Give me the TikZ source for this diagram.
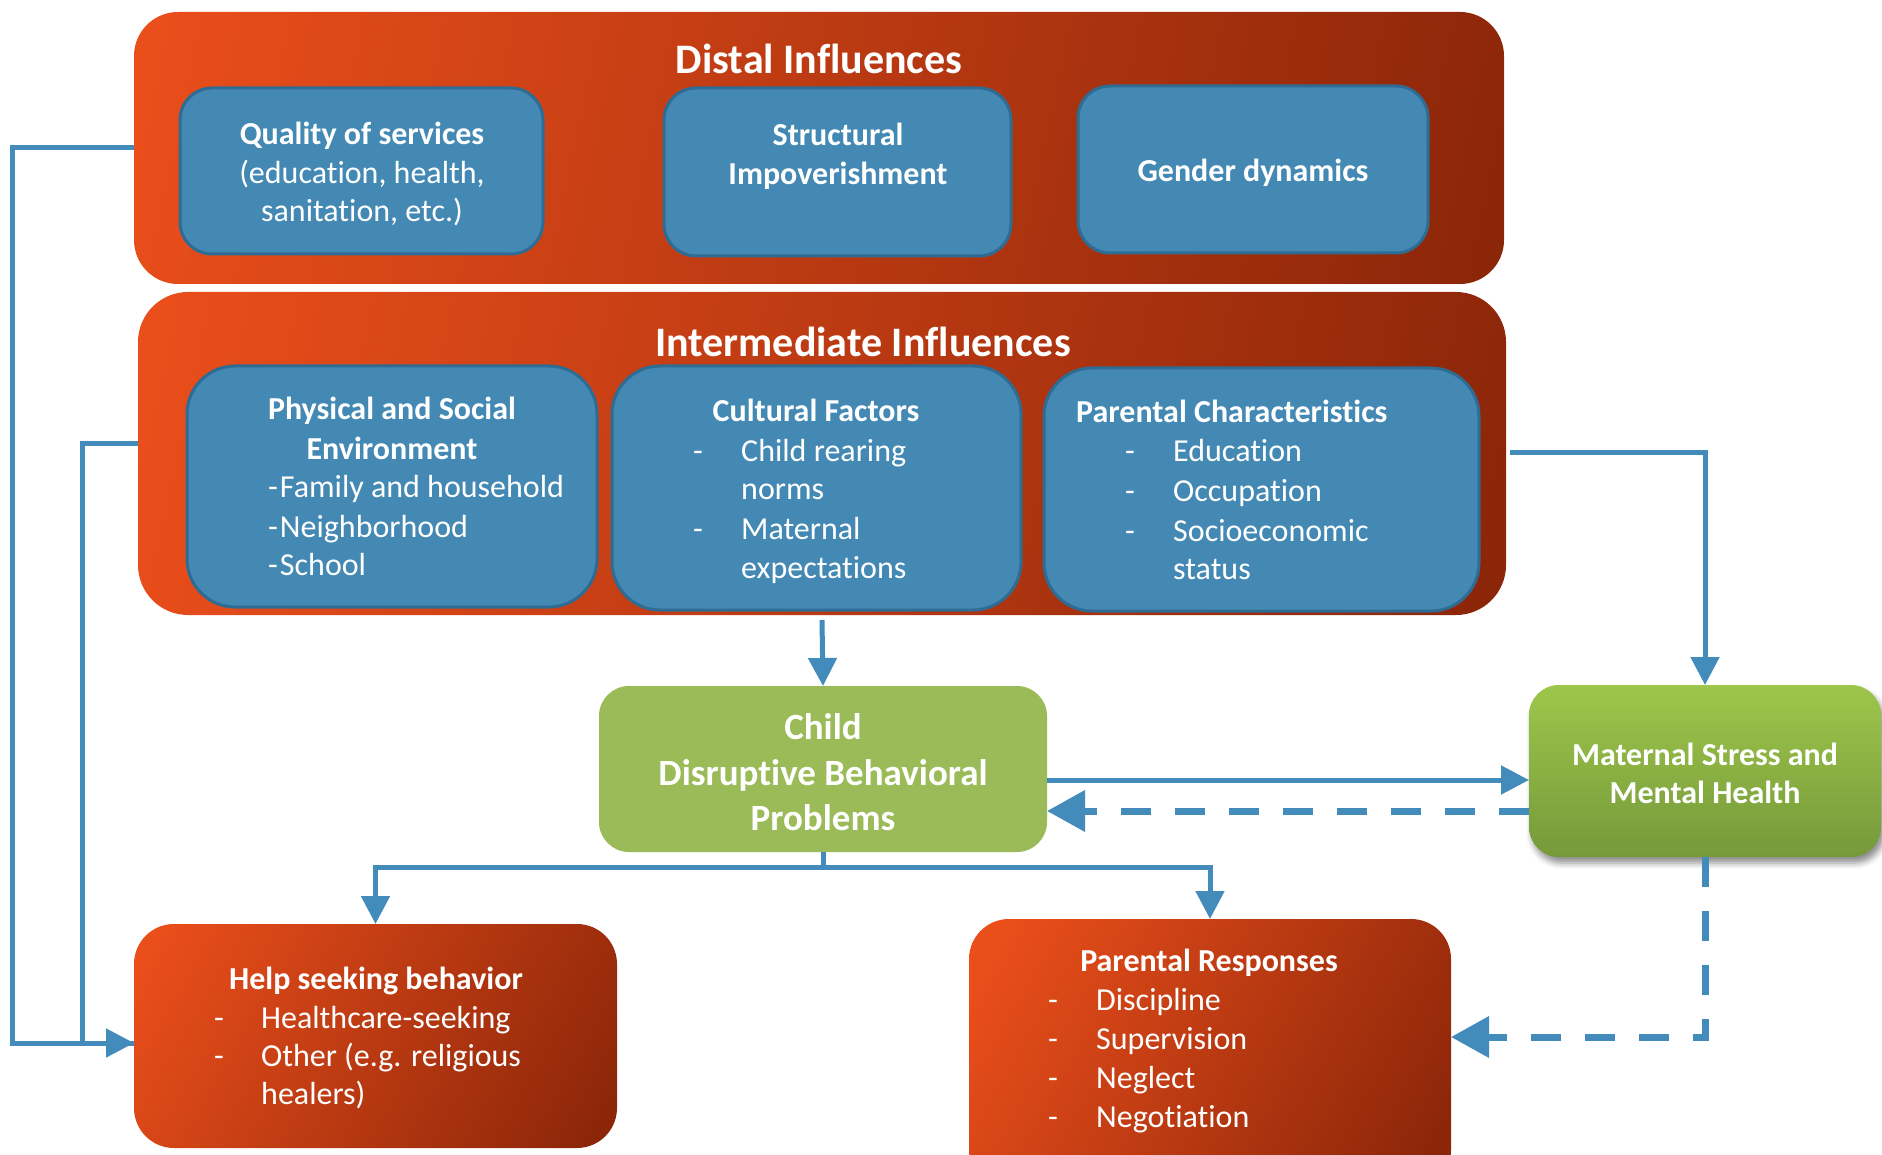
\documentclass[tikz,border=0pt]{standalone}
\usepackage{fontspec}
\setmainfont{Carlito}[Ligatures=NoCommon]
\usetikzlibrary{arrows.meta,calc,shadows.blur}

\definecolor{boxblue}{HTML}{4389B4}
\definecolor{boxedge}{HTML}{2F6C94}
\definecolor{linkblue}{HTML}{428BBA}
\definecolor{redL}{HTML}{EA4E1B}
\definecolor{redR}{HTML}{8C2609}
\definecolor{childgreen}{HTML}{9BBB59}
\definecolor{momtop}{HTML}{9EC64B}
\definecolor{mombot}{HTML}{76993A}

\tikzset{
  % diagonal orange-to-brown fill, clipped to the node outline
  redgrad/.style 2 args={path picture={
    \shade[left color=redL, right color=redR, shading angle=#2]
      ($(path picture bounding box.center)+(-#1,-#1)$) rectangle
      ($(path picture bounding box.center)+(#1,#1)$);}},
  panel/.style={rectangle, inner sep=0pt, outer sep=0pt},
  bluebox/.style={panel, fill=boxblue, draw=boxedge, line width=3pt},
  ttl/.style={font=\fontsize{42}{50}\selectfont\bfseries, text=white, anchor=base, inner sep=0pt},
  hd/.style={font=\fontsize{32}{39}\selectfont\bfseries, text=white, anchor=base, inner sep=0pt},
  bighd/.style={font=\fontsize{37}{45}\selectfont\bfseries, text=white, anchor=base, inner sep=0pt},
  rg/.style={font=\fontsize{32}{39}\selectfont, text=white, anchor=base, inner sep=0pt},
  it/.style={font=\fontsize{32}{39}\selectfont, text=white, anchor=base west, inner sep=0pt},
  link/.style={draw=linkblue, line width=5pt},
  dashlink/.style={draw=linkblue, line width=7pt, dash pattern=on 30pt off 24pt},
  tipS/.style={-{Triangle[length=28pt,width=28pt]}},
  tipL/.style={-{Triangle[length=38pt,width=40pt]}},
}

\begin{document}
\begin{tikzpicture}[x=1pt,y=-1pt]
\useasboundingbox (0,0) rectangle (1882,1155);

% ---- distal influences ----
\node[panel, rounded corners=44pt, minimum width=1370pt, minimum height=272pt, redgrad={685}{78}] (distal) at (819,148) {};
\node[ttl] (distalT) at (819,74) {Distal Influences};
\node[bluebox, rounded corners=32pt, minimum width=363pt, minimum height=166pt] (qual) at (361.5,171) {};
\node[bluebox, rounded corners=32pt, minimum width=347pt, minimum height=168pt] (struct) at (837.5,172) {};
\node[bluebox, rounded corners=32pt, minimum width=350pt, minimum height=167pt] (gender) at (1253,169.5) {};
\node[hd] (qualA) at (362,145) {Quality of services};
\node[rg] (qualB) at (362,184) {(education, health,};
\node[rg] (qualC) at (362,222) {sanitation, etc.)};
\node[hd] (structA) at (838,146) {Structural};
\node[hd] (structB) at (838,185) {Impoverishment};
\node[hd] (genderA) at (1253,182) {Gender dynamics};

% ---- intermediate influences ----
\node[panel, rounded corners=50pt, minimum width=1368pt, minimum height=323pt, redgrad={684}{78}] (inter) at (822,453.5) {};
\node[ttl] (interT) at (863,357) {Intermediate Influences};
\node[bluebox, rounded corners=48pt, minimum width=410pt, minimum height=241pt] (phys) at (392,486.5) {};
\node[bluebox, rounded corners=48pt, minimum width=409pt, minimum height=244pt] (cult) at (816.5,488) {};
\node[bluebox, rounded corners=48pt, minimum width=435pt, minimum height=243pt] (pchar) at (1261.5,489.5) {};

\node[hd] (physA) at (392,420) {Physical and Social};
\node[hd] (physB) at (392,459) {Environment};
\node[it] (physC) at (268,497) {-\kern2pt Family and household};
\node[it] (physD) at (268,537) {-\kern2pt Neighborhood};
\node[it] (physE) at (268,575) {-\kern2pt School};

\node[hd] (cultA) at (816,421) {Cultural Factors};
\node[it] (cultD1) at (693,461) {-};
\node[it] (cultB) at (741,461) {Child rearing};
\node[it] (cultB2) at (741,499) {norms};
\node[it] (cultD2) at (693,539) {-};
\node[it] (cultC) at (741,539) {Maternal};
\node[it] (cultC2) at (741,578) {expectations};

\node[hd, anchor=base west] (pcharA) at (1076,422) {Parental Characteristics};
\node[it] (pcharD1) at (1125,461) {-};
\node[it] (pcharB) at (1173,461) {Education};
\node[it] (pcharD2) at (1125,501) {-};
\node[it] (pcharC) at (1173,501) {Occupation};
\node[it] (pcharD3) at (1125,541) {-};
\node[it] (pcharE) at (1173,541) {Socioeconomic};
\node[it] (pcharE2) at (1173,579) {status};

% ---- child and mother ----
\node[panel, rounded corners=30pt, fill=childgreen, minimum width=448pt, minimum height=166pt] (child) at (823,769) {};
\node[bighd] (childA) at (823,739) {Child};
\node[bighd] (childB) at (823,785) {Disruptive Behavioral};
\node[bighd] (childC) at (823,830) {Problems};

\node[panel, rounded corners=30pt, top color=momtop, bottom color=mombot, minimum width=352pt, minimum height=172pt,
      blur shadow={shadow xshift=3pt, shadow yshift=-6pt, shadow blur radius=6pt, shadow opacity=45}] (maternal) at (1705,771) {};
\node[hd] (maternalA) at (1705,765) {Maternal Stress and};
\node[hd] (maternalB) at (1705,803) {Mental Health};

% ---- outcomes ----
\node[panel, rounded corners=40pt, minimum width=483pt, minimum height=224pt, redgrad={242}{60}] (help) at (375.5,1036) {};
\node[hd] (helpA) at (376,989) {Help seeking behavior};
\node[it] (helpD1) at (214,1028) {-};
\node[it] (helpB) at (261,1028) {Healthcare-seeking};
\node[it] (helpD2) at (214,1066) {-};
\node[it] (helpC) at (261,1066) {Other (e.g. religious};
\node[it] (helpC2) at (261,1104) {healers)};

\node[panel, rounded corners=40pt, minimum width=482pt, minimum height=271pt, redgrad={242}{60}] (presp) at (1210,1054.5) {};
\node[hd] (prespA) at (1209,971) {Parental Responses};
\node[it] (prespD1) at (1048,1010) {-};
\node[it] (prespB) at (1096,1010) {Discipline};
\node[it] (prespD2) at (1048,1049) {-};
\node[it] (prespC) at (1096,1049) {Supervision};
\node[it] (prespD3) at (1048,1088) {-};
\node[it] (prespE) at (1096,1088) {Neglect};
\node[it] (prespD4) at (1048,1127) {-};
\node[it] (prespF) at (1096,1127) {Negotiation};

% ---- connectors ----
\draw[link] ([yshift=10pt]inter.west) -- ++(-56,0) |- ([yshift=-7pt]help.west);
\draw[link, tipS] (distal.west) -- ++(-122,0) |- ([yshift=-7pt]help.west);

\draw[link, tipS] ([yshift=-5pt]inter.south) -- (child.north);
\draw[link, tipS] ([xshift=4pt,yshift=1pt]inter.east) -| (maternal.north);

\draw[link, tipS] ([yshift=-11pt]child.east) -- ([yshift=-9pt]maternal.west);
\draw[dashlink, tipL] ([yshift=-40pt]maternal.west) -- ([yshift=-42pt]child.east);

\draw[link, tipS] (child.south) -- ++(0,15) -| (help.north);
\draw[link, tipS] (child.south) -- ++(0,15) -| (presp.north);

\draw[dashlink, tipL] (maternal.south) |- ([yshift=17.5pt]presp.east);
\end{tikzpicture}
\end{document}
